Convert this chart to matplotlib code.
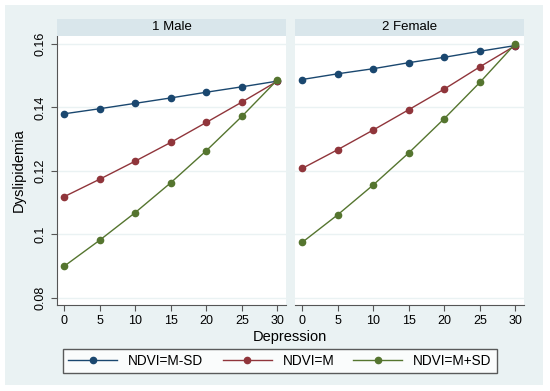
import matplotlib
matplotlib.use("Agg")
import matplotlib.pyplot as plt
from matplotlib.patches import Rectangle
from matplotlib.lines import Line2D

plt.rcParams["font.family"] = ["Liberation Sans", "DejaVu Sans"]

depression = [0, 5, 10, 15, 20, 25, 30]
panels = ["1 Male", "2 Female"]
series_names = ["NDVI=M-SD", "NDVI=M", "NDVI=M+SD"]
colors = ["#1A476F", "#90353B", "#55752F"]

male = [
    [0.1380, 0.1396, 0.1413, 0.1430, 0.1448, 0.1465, 0.1483],
    [0.1119, 0.1174, 0.1231, 0.1290, 0.1353, 0.1417, 0.1483],
    [0.0900, 0.0982, 0.1069, 0.1163, 0.1264, 0.1372, 0.1487],
]
female = [
    [0.1488, 0.1506, 0.1522, 0.1541, 0.1558, 0.1577, 0.1595],
    [0.1208, 0.1267, 0.1329, 0.1393, 0.1458, 0.1528, 0.1595],
    [0.0975, 0.1062, 0.1156, 0.1257, 0.1365, 0.1479, 0.1601],
]

yticks = [0.08, 0.10, 0.12, 0.14, 0.16]
ytick_labels = ["0.08", "0.1", "0.12", "0.14", "0.16"]

bg = "#EAF2F3"
strip = "#D9E6EB"

fig = plt.figure(figsize=(5.5, 3.91), dpi=100)
fig.patch.set_facecolor("white")
fig.patches.append(Rectangle((5 / 550, 1 - 385 / 391), 538 / 550, 380 / 391,
                             transform=fig.transFigure, facecolor=bg,
                             edgecolor="none", zorder=-10))

W, H = 550, 391
def frac(x0, y0, x1, y1):
    return [x0 / W, 1 - y1 / H, (x1 - x0) / W, (y1 - y0) / H]

lefts = [57, 295]
for i, (title, data) in enumerate(zip(panels, [male, female])):
    x0 = lefts[i]
    ax = fig.add_axes(frac(x0, 36, x0 + 229, 305))
    ax.set_facecolor("white")
    for vals, c in zip(data, colors):
        ax.plot(depression, vals, color=c, lw=1, marker="o", ms=4.5, zorder=3)
    ax.set_xlim(-1, 31.2)
    ax.set_ylim(0.0778, 0.1625)
    ax.set_yticks(yticks)
    ax.set_xticks(depression)
    ax.grid(axis="y", color=bg, lw=1)
    ax.set_axisbelow(True)
    for s in ["top", "right"]:
        ax.spines[s].set_visible(False)
    ax.spines["bottom"].set_color("#555555")
    ax.spines["left"].set_color("#555555")
    ax.tick_params(axis="both", labelsize=9, color="#555555", length=4)
    if i == 0:
        ax.set_yticklabels(ytick_labels, rotation=90, va="center")
        ax.set_ylabel("Dyslipidemia", fontsize=10.5, labelpad=6)
    else:
        ax.spines["left"].set_visible(False)
        ax.tick_params(axis="y", left=False, labelleft=False)
    sax = fig.add_axes(frac(x0, 19, x0 + 229, 36))
    sax.set_facecolor(strip)
    sax.set_xticks([])
    sax.set_yticks([])
    for s in sax.spines.values():
        s.set_visible(False)
    sax.text(0.5, 0.5, title, ha="center", va="center", fontsize=9.5,
             transform=sax.transAxes)

fig.text(290 / W, 1 - 337 / H, "Depression", ha="center", va="center", fontsize=10.5)

handles = [Line2D([], [], color=c, lw=1, marker="o", ms=4.5) for c in colors]
leg = fig.legend(handles, series_names, loc="center",
                 bbox_to_anchor=(280 / W, 1 - 361 / H), ncol=3, fontsize=9.8,
                 frameon=True, fancybox=False, edgecolor="#333333",
                 handlelength=3.6, columnspacing=1.4, borderpad=0.4,
                 handletextpad=0.8)
leg.get_frame().set_linewidth(1)

fig.savefig("out.png", dpi=100)
